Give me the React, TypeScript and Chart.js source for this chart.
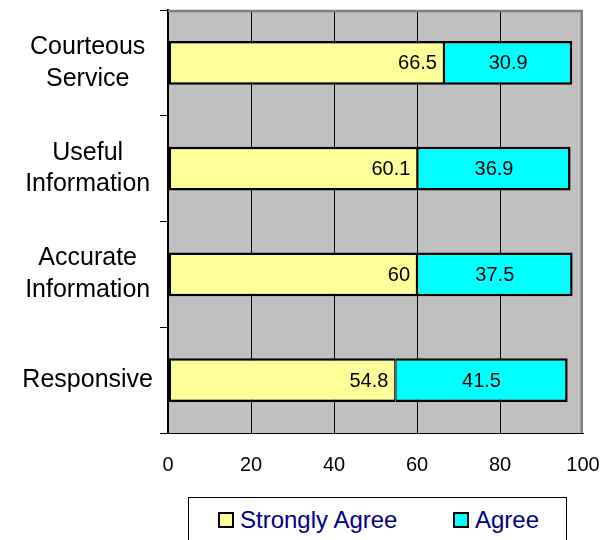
import React, { useEffect, useRef } from "react";
import { Chart, registerables } from "chart.js";

Chart.register(...registerables);

const categories: string[][] = [
  ["Courteous", "Service"],
  ["Useful", "Information"],
  ["Accurate", "Information"],
  ["Responsive"],
];
const stronglyAgree = [66.5, 60.1, 60, 54.8];
const agree = [30.9, 36.9, 37.5, 41.5];
const seriesNames = ["Strongly Agree", "Agree"];
const seriesColors = ["#FFFF99", "#00FFFF"];
const xMin = 0;
const xMax = 100;
const xStep = 20;

const FONT = '"Liberation Sans", Arial, Helvetica, sans-serif';

const plotPlugin = {
  id: "plotBg",
  beforeDraw(chart: any) {
    const { ctx, chartArea: a } = chart;
    ctx.save();
    ctx.fillStyle = "#C0C0C0";
    ctx.fillRect(a.left, a.top, a.right - a.left, a.bottom - a.top);
    ctx.restore();
  },
  beforeDatasetsDraw(chart: any) {
    const { ctx, chartArea: a } = chart;
    ctx.save();
    ctx.strokeStyle = "#808080";
    ctx.lineWidth = 2.5;
    ctx.beginPath();
    ctx.moveTo(a.left, a.top + 1);
    ctx.lineTo(a.right - 1.25, a.top + 1);
    ctx.lineTo(a.right - 1.25, a.bottom);
    ctx.stroke();
    ctx.restore();
  },
};

const labelPlugin = {
  id: "valueLabels",
  afterDatasetsDraw(chart: any) {
    const { ctx } = chart;
    ctx.save();
    ctx.font = `20px ${FONT}`;
    ctx.fillStyle = "#000";
    ctx.textBaseline = "middle";
    chart.data.datasets.forEach((ds: any, i: number) => {
      const meta = chart.getDatasetMeta(i);
      meta.data.forEach((bar: any, j: number) => {
        const v = ds.data[j];
        const txt = String(v);
        if (i === 0) {
          ctx.textAlign = "right";
          ctx.fillText(txt, bar.x - 7, bar.y + 1);
        } else {
          ctx.textAlign = "center";
          ctx.fillText(txt, (bar.x + bar.base) / 2, bar.y + 1);
        }
      });
    });
    ctx.restore();
  },
};

export default function App() {
  const ref = useRef<HTMLCanvasElement>(null);
  useEffect(() => {
    const chart = new Chart(ref.current as HTMLCanvasElement, {
      type: "bar",
      data: {
        labels: categories as any,
        datasets: [
          {
            label: seriesNames[0],
            data: stronglyAgree,
            backgroundColor: seriesColors[0],
            borderColor: "#000",
            borderWidth: { top: 2.5, bottom: 2.5, left: 2.5, right: 1.25 } as any,
            borderSkipped: false as any,
            barPercentage: 0.415,
            categoryPercentage: 1,
          },
          {
            label: seriesNames[1],
            data: agree,
            backgroundColor: seriesColors[1],
            borderColor: "#000",
            borderWidth: { top: 2.5, bottom: 2.5, left: 1.25, right: 2.5 } as any,
            borderSkipped: false as any,
            barPercentage: 0.415,
            categoryPercentage: 1,
          },
        ],
      },
      options: {
        indexAxis: "y",
        responsive: false,
        maintainAspectRatio: false,
        animation: false,
        layout: { padding: { top: 10, right: 17, bottom: 0, left: 0 } },
        plugins: { legend: { display: false }, tooltip: { enabled: false } },
        scales: {
          x: {
            stacked: true,
            min: xMin,
            max: xMax,
            ticks: {
              stepSize: xStep,
              color: "#000",
              font: { family: FONT, size: 20 },
              padding: 20,
            },
            grid: {
              color: (c: any) =>
                c.tick && (c.tick.value === xMin || c.tick.value === xMax)
                  ? "rgba(0,0,0,0)"
                  : "#000",
              lineWidth: 1,
              drawTicks: false,
            },
            border: { color: "#000", width: 1 },
            afterFit: (s: any) => {
              s.height = 57;
              s.paddingLeft = 0;
              s.paddingRight = 0;
            },
          },
          y: {
            stacked: true,
            ticks: {
              color: "#000",
              font: { family: FONT, size: 25, lineHeight: 1.27 },
              padding: 7,
              crossAlign: "center",
            },
            grid: {
              drawOnChartArea: false,
              drawTicks: true,
              tickLength: 8,
              color: "#000",
              lineWidth: 1,
            },
            border: { color: "#000", width: 2 },
            afterFit: (s: any) => {
              s.width = 168;
              s.paddingTop = 0;
              s.paddingBottom = 0;
            },
          },
        },
      } as any,
      plugins: [plotPlugin, labelPlugin],
    });
    return () => chart.destroy();
  }, []);

  const sq = (color: string, left: number) => (
    <div
      style={{
        position: "absolute",
        left,
        top: 512,
        width: 16,
        height: 16,
        boxSizing: "border-box",
        border: "2px solid #000",
        background: color,
      }}
    />
  );
  const txt = (t: string, left: number) => (
    <div
      style={{
        position: "absolute",
        left,
        top: 508,
        fontFamily: FONT,
        fontSize: 24,
        lineHeight: "24px",
        color: "#000080",
        whiteSpace: "nowrap",
      }}
    >
      {t}
    </div>
  );

  return (
    <div
      style={{
        position: "fixed",
        left: 0,
        top: 0,
        width: 600,
        height: 540,
        background: "#fff",
        overflow: "hidden",
      }}
    >
      <canvas ref={ref} width={600} height={490} style={{ display: "block" }} />
      <div
        style={{
          position: "absolute",
          left: 188,
          top: 497,
          width: 379,
          height: 60,
          boxSizing: "border-box",
          border: "1px solid #000",
        }}
      />
      {sq(seriesColors[0], 218)}
      {txt(seriesNames[0], 240)}
      {sq(seriesColors[1], 453)}
      {txt(seriesNames[1], 475)}
    </div>
  );
}
